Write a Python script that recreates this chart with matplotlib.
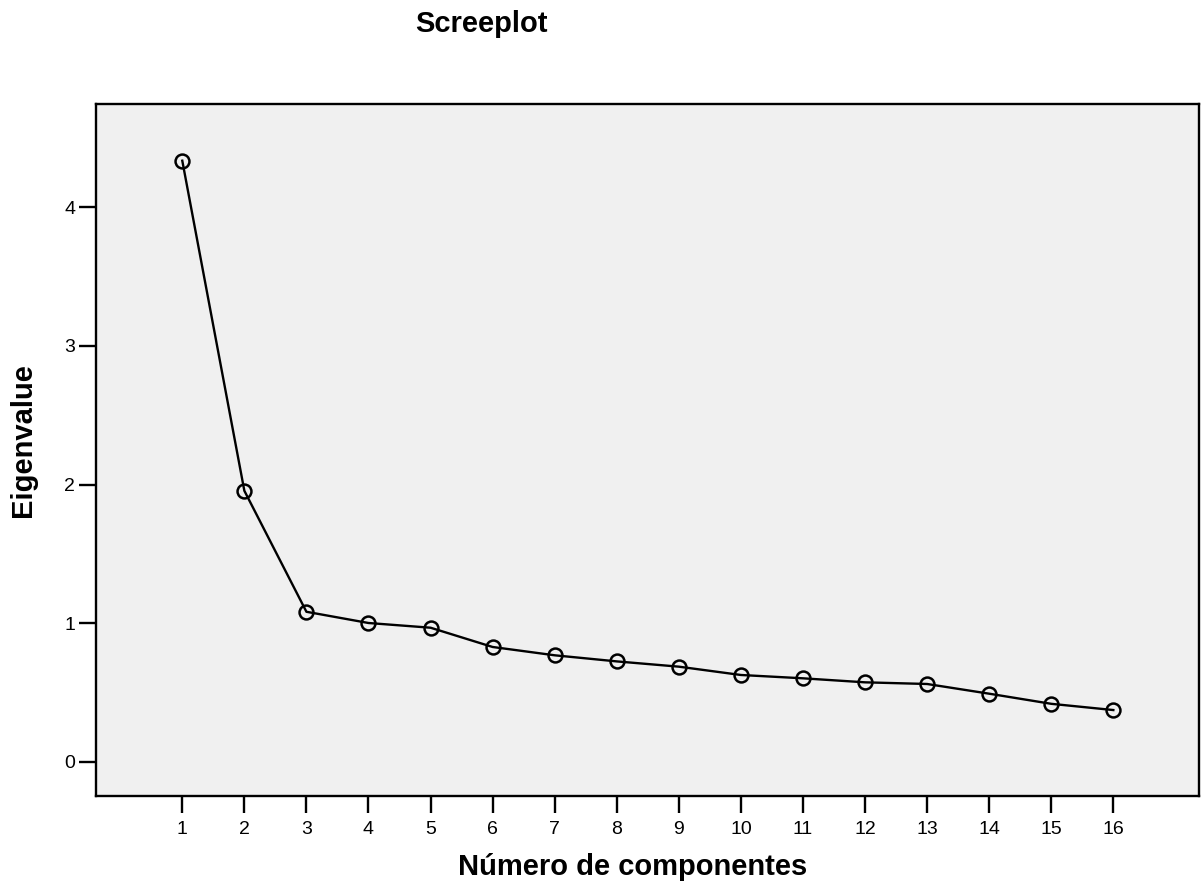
import matplotlib
matplotlib.use('Agg')
import matplotlib.pyplot as plt

# Eigenvalues
components = list(range(1, 17))
eigenvalues = [4.336, 1.955, 1.082, 1.001, 0.967, 0.828, 0.768, 0.724,
               0.686, 0.626, 0.602, 0.573, 0.561, 0.491, 0.418, 0.373]
y_ticks = [0, 1, 2, 3, 4]

plt.rcParams['font.family'] = ['Liberation Sans', 'DejaVu Sans']

fig = plt.figure(figsize=(12.01, 8.83), dpi=100)
ax = fig.add_axes([96 / 1201, 1 - 796 / 883, (1199 - 96) / 1201, (796 - 104) / 883])
ax.set_facecolor('#f0f0f0')

ax.plot(components, eigenvalues, color='black', linewidth=1.7,
        marker='o', markersize=10, markerfacecolor='none',
        markeredgecolor='black', markeredgewidth=1.8)

ax.set_xlim(-0.39, 17.38)
ax.set_ylim(-0.247, 4.745)
ax.set_xticks(components)
ax.set_yticks(y_ticks)
ax.tick_params(axis='both', direction='out', length=12, width=1.7,
               labelsize=14, colors='black')
ax.tick_params(axis='x', pad=6)
ax.tick_params(axis='y', pad=3)

for side in ['left', 'bottom', 'right', 'top']:
    ax.spines[side].set_linewidth(1.7)
    ax.spines[side].set_color('black')

# Titles placed like the original output
fig.text(481 / 1201, 1 - 32 / 883, 'Screeplot', fontsize=21, fontweight='bold',
         ha='center', va='baseline')
fig.text(633 / 1201, 1 - 875 / 883, 'Número de componentes', fontsize=21,
         fontweight='bold', ha='center', va='baseline')
fig.text(23 / 1201, 1 - 440 / 883, 'Eigenvalue', fontsize=21, fontweight='bold',
         ha='center', va='center', rotation=90)

plt.savefig('out.png', dpi=100)
